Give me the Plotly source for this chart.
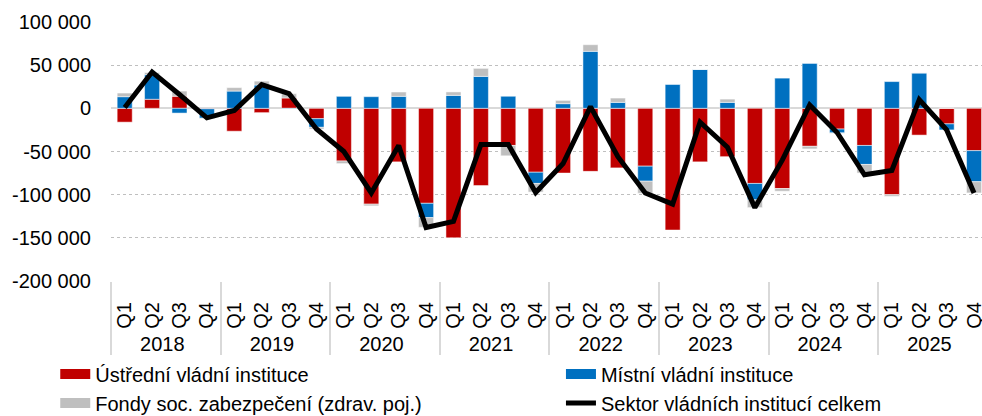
import plotly.graph_objects as go

years = ["2018", "2019", "2020", "2021", "2022", "2023", "2024", "2025"]
quarters = ["Q1", "Q2", "Q3", "Q4"]

ustredni = [-16000, 10500, 14000, -500, -26500, -5000, 12000, -12000,
            -61000, -111000, -62000, -110000, -150000, -89500, -43000, -74000,
            -75000, -73000, -69000, -67000, -141000, -62000, -56000, -87000,
            -93000, -44000, -24000, -43000, -100000, -31000, -18000, -49000]
mistni = [13500, 28500, -5500, -11000, 20000, 27000, -500, -10000,
          13900, 13500, 13900, -16600, 15000, 37000, 14000, -13000,
          5400, 66000, 6900, -17400, 28000, 45000, 6900, -19000,
          35000, 52000, -4500, -22000, 31000, 41000, -7000, -36000]
fondy = [4200, 2500, 6000, -500, 4000, 4500, 5000, -2000,
         -3000, -2000, 5000, -11200, 4000, 9300, -12000, -10000,
         3800, 7700, 5000, -14000, 0, 0, 3800, -9000,
         -3000, -3000, -500, -10000, -2000, 0, 0, -13000]
celkem = [1000, 42000, 16000, -11000, -2500, 27500, 17000, -24000,
          -50000, -98000, -43000, -138000, -131000, -42000, -42000, -97500,
          -64000, 2000, -56000, -98000, -111000, -16000, -45000, -115000,
          -60000, 4000, -28000, -77000, -72000, 10000, -25000, -98000]

y_tick_vals = [100000, 50000, 0, -50000, -100000, -150000, -200000]
y_tick_text = ["100 000", "50 000", "0", "-50 000", "-100 000", "-150 000", "-200 000"]

names = ["Ústřední vládní instituce", "Místní vládní instituce",
         "Fondy soc. zabezpečení (zdrav. poj.)", "Sektor vládních institucí celkem"]
colors = ["#C00000", "#0070C0", "#BFBFBF", "#000000"]

x_years = [y for y in years for _ in quarters]
x_q = [q for _ in years for q in quarters]
x = [x_years, x_q]

fig = go.Figure()
for vals, col in zip([ustredni, mistni, fondy], colors[:3]):
    fig.add_trace(go.Bar(x=x, y=vals, marker=dict(color=col, line=dict(color="rgba(255,255,255,0.5)", width=1)),
                         showlegend=False, hoverinfo="y"))
fig.add_trace(go.Scatter(x=x, y=celkem, mode="lines", line=dict(color="black", width=5),
                         showlegend=False))

# legend entries
legend_ids = ["legend", "legend2", "legend", "legend2"]
widths = [10, 10, 10, 5]
for name, col, lg, w in zip(names, colors, legend_ids, widths):
    fig.add_trace(go.Scatter(x=[[years[0]], [quarters[0]]], y=[None], mode="lines",
                             line=dict(color=col, width=w), name=name, legend=lg))

fig.update_layout(
    width=982, height=416,
    margin=dict(l=111, r=0, t=22, b=135, autoexpand=False),
    barmode="relative", bargap=0.45,
    plot_bgcolor="white", paper_bgcolor="white",
    font=dict(family="Liberation Sans, Arial, sans-serif", size=20, color="#000000"),
    legend=dict(x=-0.064, y=-0.284, xanchor="left", yanchor="top",
                orientation="v", bgcolor="rgba(0,0,0,0)", tracegroupgap=0,
                font=dict(size=20)),
    legend2=dict(x=0.5166, y=-0.284, xanchor="left", yanchor="top",
                 orientation="v", bgcolor="rgba(0,0,0,0)", tracegroupgap=0,
                 font=dict(size=20)),
)
fig.update_yaxes(range=[-200000, 100000], tickvals=y_tick_vals, ticktext=y_tick_text,
                 showgrid=True, gridcolor="#BFBFBF", griddash="dot", gridwidth=1,
                 zeroline=True, zerolinecolor="#D9D9D9", zerolinewidth=2,
                 tickfont=dict(size=20), ticks="", showline=False,
                 automargin=False, ticklabelstandoff=19)
fig.update_xaxes(type="multicategory", range=[-0.5, 31.29], tickangle=-90,
                 showdividers=True, dividercolor="#D9D9D9", dividerwidth=2,
                 showgrid=False, showline=False, ticks="", tickfont=dict(size=20),
                 automargin=False, ticklabelstandoff=16)

fig.write_html("out.html", config={"displayModeBar": False},
               post_script="document.body.style.margin='0px';")
